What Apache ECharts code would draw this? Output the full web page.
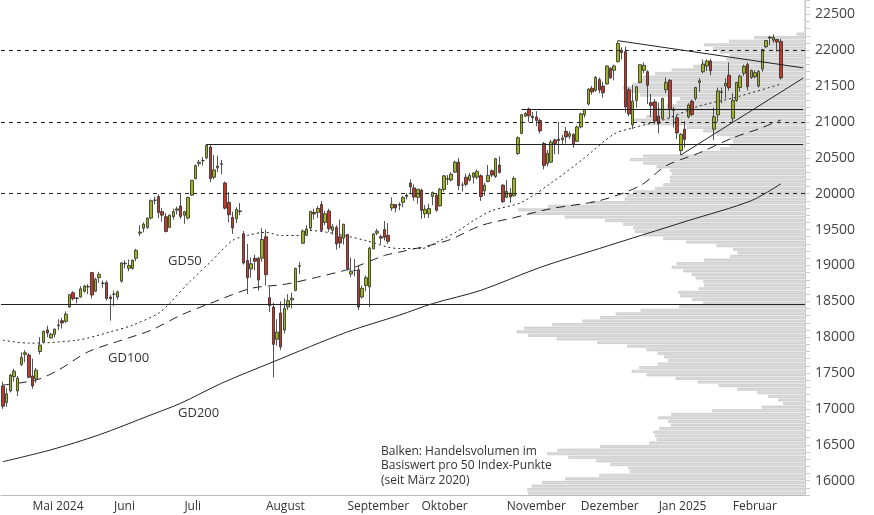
<!DOCTYPE html>
<html>
<head>
<meta charset="utf-8">
<script src="https://cdn.jsdelivr.net/npm/echarts@6/dist/echarts.min.js"></script>
<style>
  html, body { margin: 0; padding: 0; background: #fff; }
  #chart { width: 874px; height: 515px; }
</style>
</head>
<body>
<div id="chart"></div>
<script>
// Handelstage (US-Börse) und Monatsnamen
var holidays = ['2024-05-27', '2024-06-19', '2024-07-04', '2024-09-02', '2024-11-28',
  '2024-12-25', '2025-01-01', '2025-01-09', '2025-01-20', '2025-02-17'];
var monthNames = ['Apr', 'Mai 2024', 'Juni', 'Juli', 'August', 'September', 'Oktober',
  'November', 'Dezember', 'Jan 2025', 'Februar'];

// [open, close, low, high]
var candles = [
  // April
  [17320, 17037, 17000, 17380], [17090, 17210, 17030, 17290], [17250, 17471, 17230, 17490], [17450, 17526, 17380, 17560],
  [17250, 17430, 17180, 17460], [17620, 17718, 17600, 17790], [17760, 17783, 17650, 17820], [17750, 17441, 17430, 17780],
  // Mai
  [17460, 17320, 17280, 17700], [17420, 17540, 17360, 17570], [17800, 17890, 17760, 18000], [17930, 18082, 17920, 18090],
  [18100, 18057, 18000, 18160], [17990, 18041, 17980, 18060], [18040, 18113, 18000, 18120], [18170, 18161, 18100, 18250],
  [18230, 18197, 18120, 18270], [18220, 18322, 18200, 18360], [18420, 18593, 18410, 18600], [18620, 18537, 18510, 18640],
  [18540, 18546, 18470, 18560], [18560, 18674, 18550, 18710], [18640, 18714, 18620, 18730], [18700, 18705, 18600, 18740],
  [18900, 18588, 18540, 18910], [18640, 18809, 18630, 18830], [18830, 18876, 18760, 18910], [18750, 18752, 18690, 18790],
  [18760, 18539, 18510, 18790], [18560, 18536, 18230, 18590],
  // Juni
  [18600, 18598, 18430, 18650], [18560, 18631, 18520, 18650], [18780, 19036, 18760, 19040], [19030, 19023, 18960, 19070],
  [18960, 19001, 18920, 19080], [18960, 19075, 18940, 19080], [19100, 19211, 19060, 19230], [19450, 19466, 19410, 19560],
  [19520, 19576, 19460, 19600], [19530, 19659, 19510, 19670], [19660, 19903, 19640, 19920], [19910, 19908, 19850, 19960],
  [19960, 19738, 19660, 19990], [19750, 19701, 19610, 19800], [19680, 19474, 19460, 19730], [19530, 19701, 19530, 19710],
  [19680, 19751, 19640, 19790], [19770, 19788, 19710, 19820], [19830, 19683, 19650, 20000],
  // Juli
  [19700, 19749, 19580, 19760], [19660, 19947, 19640, 19960], [19980, 20187, 19970, 20190], [20210, 20391, 20200, 20410],
  [20420, 20440, 20380, 20470], [20460, 20460, 20390, 20510], [20500, 20676, 20480, 20690], [20650, 20212, 20160, 20680],
  [20230, 20332, 20200, 20540], [20360, 20386, 20300, 20530], [20410, 20418, 20270, 20470], [20150, 19798, 19780, 20170],
  [19880, 19706, 19600, 20020], [19670, 19523, 19440, 19750], [19650, 19781, 19590, 19810], [19760, 19752, 19700, 19870],
  [19440, 19033, 19010, 19480], [19070, 18830, 18600, 19300], [18950, 19023, 18830, 19110], [19100, 19059, 18930, 19150],
  [19100, 18797, 18650, 19120], [19100, 19362, 19050, 19520],
  // August
  [19400, 18872, 18720, 19500], [18550, 18440, 18350, 18700], [18420, 17900, 17440, 18480], [17970, 18070, 17880, 18250],
  [18337, 17865, 17820, 18500], [18100, 18400, 18050, 18540], [18420, 18510, 18380, 18600], [18520, 18543, 18400, 18620],
  [18650, 18957, 18640, 18970], [18990, 18995, 18880, 19050], [19310, 19480, 19300, 19500], [19420, 19508, 19410, 19560],
  [19520, 19753, 19480, 19760], [19740, 19718, 19640, 19790], [19740, 19794, 19660, 19830], [19850, 19490, 19470, 19900],
  [19600, 19721, 19560, 19760], [19760, 19512, 19470, 19790], [19490, 19540, 19430, 19580], [19530, 19299, 19220, 19560],
  [19400, 19313, 19240, 19640], [19380, 19575, 19290, 19580],
  // September
  [19430, 18959, 18930, 19440], [18880, 18920, 18840, 19110], [18930, 18930, 18850, 19090], [18940, 18421, 18380, 19000],
  [18560, 18681, 18540, 18720], [18720, 18829, 18640, 18860], [18700, 19239, 18420, 19260], [19230, 19438, 19230, 19450],
  [19450, 19477, 19420, 19510], [19400, 19381, 19300, 19430], [19500, 19393, 19350, 19620], [19420, 19336, 19300, 19590],
  [19800, 19854, 19760, 19950], [19850, 19801, 19740, 19840], [19840, 19852, 19770, 19880], [19880, 19945, 19810, 19970],
  [19960, 19981, 19920, 20010], [20150, 20095, 19990, 20200], [20080, 19953, 19900, 20130], [19950, 20061, 19860, 20070],
  // Oktober
  [20050, 19767, 19650, 20070], [19720, 19782, 19660, 19840], [19720, 19794, 19660, 19860], [19960, 20016, 19840, 20030],
  [19980, 19768, 19750, 20000], [19830, 20062, 19820, 20080], [20060, 20249, 20030, 20260], [20200, 20213, 20120, 20260],
  [20190, 20272, 20170, 20300], [20300, 20439, 20290, 20460], [20440, 20114, 20050, 20500], [20120, 20120, 20030, 20160],
  [20230, 20130, 20100, 20280], [20190, 20255, 20170, 20290], [20230, 20289, 20140, 20300], [20230, 20308, 20200, 20340],
  [20250, 19962, 19900, 20270], [20040, 20120, 19970, 20150], [20170, 20253, 20160, 20400], [20320, 20259, 20230, 20340],
  [20240, 20488, 20220, 20500], [20400, 20297, 20280, 20520], [20120, 19890, 19870, 20130],
  // November
  [19950, 20034, 19940, 20190], [20010, 19955, 19870, 20080], [19970, 20214, 19960, 20240], [20560, 20780, 20540, 20800],
  [20840, 21102, 20830, 21110], [21080, 21118, 21070, 21140], [21180, 21086, 21000, 21200], [21080, 21060, 20990, 21140],
  [21070, 21022, 20940, 21150], [21020, 20875, 20840, 21050], [20700, 20394, 20340, 20720], [20420, 20563, 20380, 20610],
  [20440, 20722, 20430, 20750], [20750, 20698, 20550, 20770], [20760, 20741, 20550, 21000], [20750, 20776, 20690, 20820],
  [20870, 20792, 20700, 20930], [20800, 20836, 20760, 20870], [20830, 20684, 20640, 20840], [20730, 20930, 20720, 20950],
  // Dezember
  [20930, 21113, 20910, 21130], [21100, 21171, 21060, 21180], [21250, 21458, 21230, 21470], [21470, 21419, 21380, 21500],
  [21440, 21622, 21420, 21640], [21590, 21446, 21400, 21620], [21500, 21406, 21340, 21560], [21530, 21779, 21520, 21790],
  [21750, 21615, 21600, 21760], [21720, 21781, 21580, 21800], [21840, 22096, 21830, 22133], [22000, 21967, 21870, 22040],
  [21980, 21209, 21130, 22050], [21450, 21111, 21080, 21480], [20960, 21290, 20900, 21520], [21300, 21490, 21200, 21500],
  [21550, 21798, 21540, 21800], [21720, 21790, 21680, 21830], [21700, 21511, 21250, 21720], [21270, 21231, 21070, 21390],
  [21280, 21012, 20970, 21320],
  // Januar
  [21080, 20976, 20840, 21270], [21050, 21326, 21030, 21340], [21450, 21551, 21400, 21620], [21580, 21172, 21050, 21600],
  [21160, 21180, 20920, 21210], [21060, 20847, 20760, 21100], [20600, 20829, 20540, 20840], [20900, 20757, 20640, 21010],
  [21070, 21238, 21050, 21260], [21290, 21103, 21080, 21310], [21330, 21480, 21300, 21490], [21550, 21575, 21420, 21610],
  [21700, 21806, 21680, 21870], [21780, 21851, 21710, 21870], [21850, 21713, 21650, 21880], [20900, 21073, 20750, 21200],
  [21100, 21433, 21000, 21480], [21420, 21412, 21260, 21480], [21500, 21538, 21330, 21610], [21650, 21478, 21440, 21830],
  // Februar
  [21050, 21299, 20990, 21400], [21300, 21550, 21280, 21560], [21480, 21637, 21420, 21660], [21680, 21776, 21640, 21800],
  [21800, 21491, 21440, 21830], [21620, 21716, 21600, 21730], [21630, 21687, 21610, 21720], [21500, 21705, 21480, 21720],
  [21740, 22010, 21700, 22020], [22050, 22135, 22030, 22140], [22180, 22170, 22070, 22200], [22140, 22176, 22100, 22222],
  [22150, 22114, 21980, 22150], [22120, 21614, 21590, 22160]
];

// gleitende Durchschnitte: [Handelstag-Index, Wert]
var gd50 = [[0, 17958], [7, 17917], [20, 17958], [29, 18074], [35, 18167], [42, 18333], [45, 18472], [50, 18750],
  [56, 19046], [62, 19347], [66, 19417], [71, 19462], [75, 19417], [80, 19417], [83, 19486], [89, 19449], [98, 19347],
  [104, 19254], [107, 19236], [113, 19236], [118, 19347], [123, 19486], [127, 19625], [132, 19764], [140, 19880],
  [148, 20150], [157, 20500], [165, 20833], [170, 20917], [179, 21040], [188, 21222], [197, 21333], [210, 21528]];
var gd100 = [[0, 17333], [9, 17403], [15, 17542], [23, 17796], [32, 17958], [40, 18097], [48, 18306], [56, 18472],
  [67, 18680], [76, 18736], [85, 18838], [94, 18958], [103, 19139], [107, 19185], [120, 19347], [129, 19555],
  [138, 19666], [148, 19792], [161, 19903], [172, 20111], [179, 20389], [188, 20569], [197, 20778], [204, 20903], [210, 21028]];
var gd200 = [[0, 16264], [13, 16430], [26, 16639], [40, 16917], [48, 17079], [59, 17357], [73, 17657],
  [93, 18074], [107, 18306], [116, 18468], [129, 18653], [145, 18972], [161, 19236], [185, 19625], [202, 19903], [210, 20139]];

// Volumenprofil, 50-Punkte-Klassen von 22650 abwärts bis 15800
var profileVolume = [0, 0, 0, 0, 0, 0, 0, 0, 0,
  25, 153, 227, 303, 275, 255, 225, 235, 305, 335, 400,
  450, 485, 500, 515, 545, 525, 495, 375, 385, 415, 445,
  460, 475, 515, 485, 355, 305, 265, 225, 215, 225, 255,
  315, 485, 525, 485, 445, 405, 400, 405, 405, 425, 450,
  515, 535, 540, 645, 770, 860, 830, 720, 600, 545, 515,
  510, 485, 425, 355, 265, 215,
  203, 225, 302, 385, 400, 365, 340, 328, 305, 302, 319, 380, 374, 338, 305, 377, 493, 568, 615, 668,
  758, 842, 865, 830, 745, 623, 533, 475, 442, 422, 410, 442, 497, 520, 475, 388, 322, 259, 203, 143,
  110, 80, 65, 130, 278, 401, 440, 410, 402, 437, 455, 450, 445, 467, 614, 743, 773, 710, 626, 584,
  530, 525, 617, 719, 788, 820, 833, 830];

var priceMin = 15800, priceMax = 22700;

// Handelstage erzeugen
var dates = [];
var d = new Date(Date.UTC(2024, 3, 19));
var end = new Date(Date.UTC(2025, 1, 21));
while (d <= end) {
  var s = d.toISOString().slice(0, 10);
  var wd = d.getUTCDay();
  if (wd !== 0 && wd !== 6 && holidays.indexOf(s) < 0) dates.push(s);
  d.setUTCDate(d.getUTCDate() + 1);
}
for (var k = 0; k < 6; k++) dates.push('pad' + k);

var monthStart = {};
dates.forEach(function (s, i) {
  if (i > 0 && s.slice(0, 3) !== 'pad' && s.slice(5, 7) !== dates[i - 1].slice(5, 7)) monthStart[i] = true;
});
function monthLabel(s) {
  var y = +s.slice(0, 4), m = +s.slice(5, 7);
  var idx = (y - 2024) * 12 + m - 4;
  return monthNames[idx] || '';
}

var profileBins = [];
for (var p = priceMin; p < priceMax; p += 50) profileBins.push(p);
var profileData = profileVolume.slice().reverse();

var ink = '#222';
function lineSeries(name, data, type) {
  return {
    name: name, type: 'line', data: data, xAxisIndex: 0, yAxisIndex: 0,
    symbol: 'none', silent: true, z: 3, smooth: 0.3,
    lineStyle: { color: ink, width: 1, type: type }
  };
}

var chart = echarts.init(document.getElementById('chart'));
chart.setOption({
  animation: false,
  textStyle: { fontFamily: 'Open Sans, Noto Sans, sans-serif' },
  grid: [
    { left: 1, right: 69, top: 0, bottom: 20 },
    { left: 1, right: 69, top: 0, bottom: 20 }
  ],
  xAxis: [
    {
      type: 'category', data: dates, gridIndex: 0, boundaryGap: true,
      axisLine: { lineStyle: { color: '#bbb' } },
      axisTick: { length: 20, lineStyle: { color: '#ccc' }, interval: function (i) { return !!monthStart[i]; } },
      axisLabel: {
        interval: function (i) { return !!monthStart[i]; },
        formatter: monthLabel, align: 'left', margin: 6, fontSize: 12, color: '#333'
      },
      splitLine: { show: false }
    },
    {
      type: 'value', gridIndex: 1, inverse: true, min: 0, max: 2412, show: false
    }
  ],
  yAxis: [
    {
      type: 'value', gridIndex: 0, position: 'right', min: priceMin, max: priceMax, interval: 100,
      axisLine: { show: true, lineStyle: { color: '#ccc' } },
      axisTick: { show: true, length: 5, lineStyle: { color: '#ccc' } },
      axisLabel: {
        margin: 10, fontSize: 14, color: '#444',
        formatter: function (v) { return (v % 500 === 0 && v < priceMax) ? String(v) : ''; }
      },
      splitLine: { show: false }
    },
    {
      type: 'category', gridIndex: 1, data: profileBins, boundaryGap: true, show: false
    }
  ],
  series: [
    {
      type: 'bar', xAxisIndex: 1, yAxisIndex: 1, data: profileData, barWidth: '78%', z: 1, silent: true,
      itemStyle: { color: '#dcdcdc', borderColor: '#bdbdbd', borderWidth: 0.6 }
    },
    {
      type: 'candlestick', xAxisIndex: 0, yAxisIndex: 0, data: candles, barWidth: 3, z: 4,
      itemStyle: {
        color: '#a2b41c', color0: '#c0392b',
        borderColor: '#2a2a2a', borderColor0: '#2a2a2a', borderWidth: 0.8
      },
      markLine: {
        silent: true, symbol: 'none', label: { show: false }, animation: false,
        data: [
          { yAxis: 20000, lineStyle: { type: [4, 4], color: ink, width: 1 } },
          { yAxis: 21000, lineStyle: { type: [4, 4], color: ink, width: 1 } },
          { yAxis: 22000, lineStyle: { type: [4, 4], color: ink, width: 1 } },
          { yAxis: 18465, lineStyle: { type: 'solid', color: ink, width: 1.2 } },
          [{ coord: [55, 20690], lineStyle: { type: 'solid', color: ink, width: 1.2 } }, { coord: [216, 20690] }],
          [{ coord: [140, 21176], lineStyle: { type: 'solid', color: ink, width: 1.2 } }, { coord: [216, 21176] }],
          [{ coord: [166, 22133], lineStyle: { type: 'solid', color: ink, width: 1 } }, { coord: [216, 21754] }],
          [{ coord: [183, 20540], lineStyle: { type: 'solid', color: ink, width: 1 } }, { coord: [216, 21611] }]
        ]
      }
    },
    lineSeries('GD50', gd50, [2, 3]),
    lineSeries('GD100', gd100, [9, 6]),
    lineSeries('GD200', gd200, 'solid')
  ],
  graphic: [
    { type: 'text', left: 168, top: 255, style: { text: 'GD50', fontSize: 13, fill: '#333', fontFamily: 'Open Sans' } },
    { type: 'text', left: 108, top: 352, style: { text: 'GD100', fontSize: 13, fill: '#333', fontFamily: 'Open Sans' } },
    { type: 'text', left: 178, top: 407, style: { text: 'GD200', fontSize: 13, fill: '#333', fontFamily: 'Open Sans' } },
    {
      type: 'text', left: 381, top: 444,
      style: {
        text: 'Balken: Handelsvolumen im\nBasiswert pro 50 Index-Punkte\n(seit März 2020)',
        fontSize: 12, lineHeight: 14.5, fill: '#333', fontFamily: 'Open Sans'
      }
    }
  ]
});
</script>
</body>
</html>
